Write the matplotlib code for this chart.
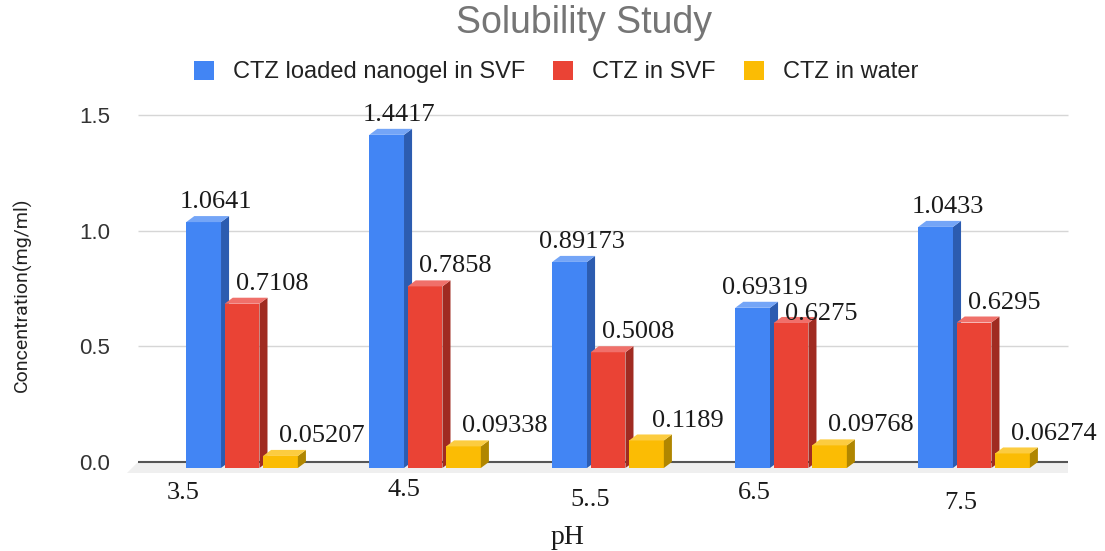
from matplotlib import pyplot as plt
from matplotlib.patches import Polygon, Patch
import numpy as np

# Data
ph_labels = ["3.5", "4.5", "5..5", "6.5", "7.5"]
series_names = ["CTZ loaded nanogel in SVF", "CTZ in SVF", "CTZ in water"]
nanogel_svf = [1.0641, 1.4417, 0.89173, 0.69319, 1.0433]
ctz_svf = [0.7108, 0.7858, 0.5008, 0.6275, 0.6295]
ctz_water = [0.05207, 0.09338, 0.1189, 0.09768, 0.06274]
yticks = [0.0, 0.5, 1.0, 1.5]
ytick_labels = ["0.0", "0.5", "1.0", "1.5"]

# Styling: front / side / top colours for faux 3D bars
front_colors = ["#4285F4", "#EA4335", "#FBBC04"]
side_colors = ["#2c5cb0", "#a02b21", "#b08600"]
top_colors = ["#74a5f7", "#f0706a", "#fccc40"]
bar_width = 0.19
bar_step = 0.21
dx, dz = 0.044, 0.026          # depth offsets (x in category units, y in data units)
label_dx_pts = [9, 22, 30]     # horizontal nudge of value labels per series
label_dy_pts = 10
# labels pushed down to avoid colliding with a neighbour: (series, category) -> dy
label_dy_fix = {(1, 3): 2}
xlab_dx = [-0.32, -0.115, -0.10, -0.20, -0.07]
xlab_y = [-0.134, -0.121, -0.165, -0.134, -0.177]

fig = plt.figure(figsize=(11.05, 5.51), dpi=100)
ax = fig.add_axes([0.1086, 0.1289, 0.8643, 0.6806])
ax.set_xlim(-0.667, 4.552)
ax.set_ylim(-0.078, 1.545)

x0, x1 = -0.568, 4.514

# Floor band under the zero line
ax.add_patch(Polygon([(x0, 0), (x1, 0), (x1, -0.048), (x0 - 0.06, -0.048)],
                     closed=True, facecolor="#efefef", edgecolor="none", zorder=0))

# Gridlines and zero line
for yv in yticks[1:]:
    ax.hlines(yv, x0, x1, color="#d6d6d6", lw=1.0, zorder=0)
ax.hlines(0, x0, x1, color="#555555", lw=1.5, zorder=1)

x = np.arange(len(ph_labels))
all_series = [nanogel_svf, ctz_svf, ctz_water]

for i, vals in enumerate(all_series):
    xs = x + (i - 1) * bar_step
    bars = ax.bar(xs, vals, width=bar_width, bottom=-dz, color=front_colors[i],
                  edgecolor="none", zorder=3)
    for j, (b, v) in enumerate(zip(bars, vals)):
        left = b.get_x()
        right = left + b.get_width()
        top = v - dz
        ax.add_patch(Polygon([(right, -dz), (right + dx, 0), (right + dx, v), (right, top)],
                             closed=True, facecolor=side_colors[i], edgecolor="none", zorder=3))
        ax.add_patch(Polygon([(left, top), (right, top), (right + dx, v), (left + dx, v)],
                             closed=True, facecolor=top_colors[i], edgecolor="none", zorder=3))
        dy = label_dy_fix.get((i, j), label_dy_pts)
        ax.annotate(f"{v:g}", xy=(b.get_x() + b.get_width() / 2, v),
                    xytext=(label_dx_pts[i], dy), textcoords="offset points",
                    ha="center", va="center", fontsize=19,
                    family="Liberation Serif", color="#1a1a1a", zorder=5)

# Axis ticks / labels
ax.set_yticks(yticks)
ax.set_yticklabels(ytick_labels, fontsize=16, family="Liberation Sans", color="#333333")
ax.tick_params(axis="y", length=0, pad=7)
ax.set_xticks([])
for s in ax.spines.values():
    s.set_visible(False)

for i, lab in enumerate(ph_labels):
    ax.text(i + xlab_dx[i], xlab_y[i], lab, ha="center", va="center",
            fontsize=19, family="Liberation Serif", color="#1a1a1a")

fig.text(568 / 1105, 1 - 537 / 551, "pH", ha="center", va="center",
         fontsize=20, family="Liberation Serif", color="#1a1a1a")
fig.text(22 / 1105, 1 - 295 / 551, "Concentration(mg/ml)", rotation=90,
         ha="center", va="center", fontsize=14, family="Roboto", color="#222222")
fig.text(584 / 1105, 1 - 23 / 551, "Solubility Study", ha="center", va="center",
         fontsize=27, family="Liberation Sans", color="#757575")

handles = [Patch(facecolor=c, edgecolor="none") for c in front_colors]
fig.legend(handles, series_names, loc="center", bbox_to_anchor=(556 / 1105, 1 - 72 / 551),
           ncol=3, frameon=False, prop={"family": "Liberation Sans", "size": 17},
           handlelength=0.85, handleheight=0.85, handletextpad=0.8, columnspacing=1.2,
           labelcolor="#222222")

plt.savefig("out.png", dpi=100)
